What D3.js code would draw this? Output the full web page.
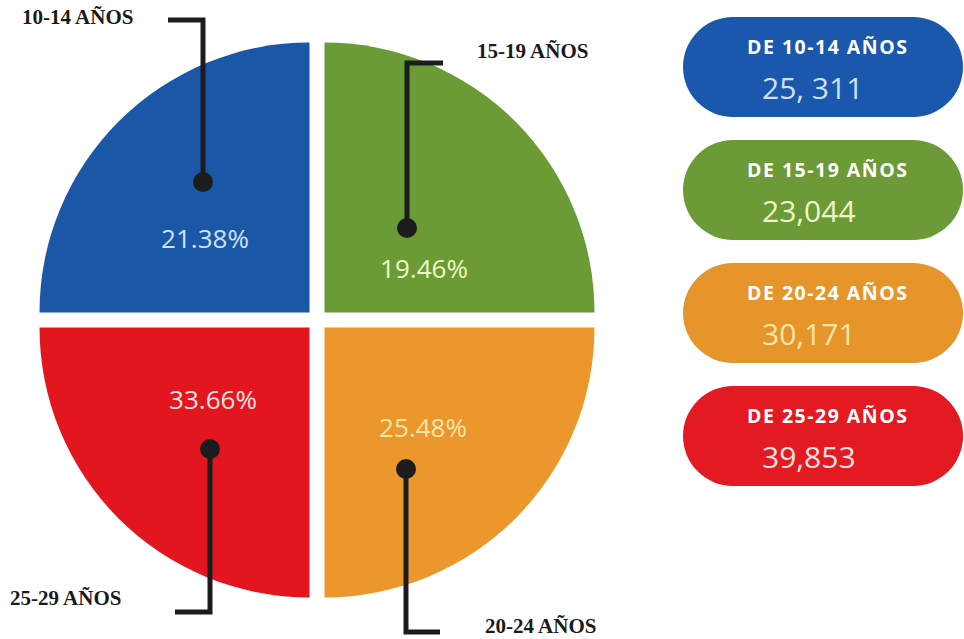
<!DOCTYPE html>
<html>
<head>
<meta charset="utf-8">
<script src="https://cdn.jsdelivr.net/npm/d3@7"></script>
<style>
  html, body { margin: 0; padding: 0; background: #ffffff; }
  svg { display: block; }
</style>
</head>
<body>
<svg id="chart" width="964" height="639"></svg>
<script>
// ---- data ----
const categories = ["10-14", "15-19", "20-24", "25-29"];
const counts = [25311, 23044, 30171, 39853];
const countLabels = ["25, 311", "23,044", "30,171", "39,853"];
const percents = [21.38, 19.46, 25.48, 33.66];
const colors = ["#1a57a7", "#6a9b35", "#eb972b", "#e3161f"];
const pillColors = ["#1a58ad", "#6b9a36", "#e6952b", "#e31a22"];
const textTints = ["#cfe1f7", "#eef7c8", "#fbe6a6", "#fde2e2"];

const svg = d3.select("#chart");
const cx = 317, cy = 320, R = 270, gap = 7.5;

// The reference draws the four groups as equal quadrants
const pie = d3.pie().sort(null).value(() => 1)
  .startAngle(-Math.PI / 2).endAngle(3 * Math.PI / 2);
const arc = d3.arc().innerRadius(0).outerRadius(R);
const arcs = pie(categories.map((c, i) => ({ cat: c, count: counts[i], pct: percents[i], i })));

const g = svg.append("g").attr("transform", `translate(${cx},${cy})`);

// per-slice layout: direction of offset, label position, leader geometry
const layout = [
  { dx: -1, dy: -1, pct: [-112, -72], dot: [-114, -138], elbow: [-114, -300], end: [-149, -300], lab: [-295, -296] },
  { dx: 1, dy: -1, pct: [107, -42], dot: [90, -92], elbow: [90, -257], end: [126, -257], lab: [160, -262] },
  { dx: 1, dy: 1, pct: [106, 117], dot: [89, 149], elbow: [89, 312], end: [123, 312], lab: [168, 313] },
  { dx: -1, dy: 1, pct: [-104, 89], dot: [-107, 129], elbow: [-107, 292], end: [-142, 292], lab: [-307, 285] }
];

const slices = g.selectAll("g.slice").data(arcs).join("g")
  .attr("class", "slice")
  .attr("transform", d => `translate(${layout[d.index].dx * gap},${layout[d.index].dy * gap})`);

slices.append("path")
  .attr("d", arc)
  .attr("fill", d => colors[d.index]);

// percent labels
g.selectAll("text.pct").data(arcs).join("text")
  .attr("class", "pct")
  .attr("x", d => layout[d.index].pct[0])
  .attr("y", d => layout[d.index].pct[1])
  .attr("text-anchor", "middle")
  .attr("font-family", "'Open Sans', sans-serif")
  .attr("font-size", 26)
  .attr("fill", d => textTints[d.index])
  .text(d => d.data.pct.toFixed(2) + "%");

// leader lines
g.selectAll("path.leader").data(arcs).join("path")
  .attr("class", "leader")
  .attr("fill", "none")
  .attr("stroke", "#1c1c1e")
  .attr("stroke-width", 5)
  .attr("stroke-linejoin", "miter")
  .attr("d", d => {
    const L = layout[d.index];
    return `M${L.dot[0]},${L.dot[1]}L${L.elbow[0]},${L.elbow[1]}L${L.end[0]},${L.end[1]}`;
  });

g.selectAll("circle.dot").data(arcs).join("circle")
  .attr("class", "dot")
  .attr("cx", d => layout[d.index].dot[0])
  .attr("cy", d => layout[d.index].dot[1])
  .attr("r", 10)
  .attr("fill", "#1c1c1e");

// outer labels
g.selectAll("text.lab").data(arcs).join("text")
  .attr("class", "lab")
  .attr("x", d => layout[d.index].lab[0])
  .attr("y", d => layout[d.index].lab[1])
  .attr("font-family", "'Liberation Serif', 'Times New Roman', serif")
  .attr("font-weight", "bold")
  .attr("font-size", 21)
  .attr("fill", "#1a1a1a")
  .text(d => d.data.cat + " AÑOS");

// ---- pills (legend) ----
const py = d3.scaleBand().domain(categories).range([17, 486]).paddingInner(0.187).paddingOuter(0);
const pillX = 683, pillW = 280;
const pill = svg.selectAll("g.pill").data(categories).join("g")
  .attr("class", "pill")
  .attr("transform", d => `translate(${pillX},${py(d)})`);

pill.append("rect")
  .attr("width", pillW)
  .attr("height", py.bandwidth())
  .attr("rx", py.bandwidth() / 2)
  .attr("ry", py.bandwidth() / 2)
  .attr("fill", (d, i) => pillColors[i]);

pill.append("text")
  .attr("x", 64)
  .attr("y", 37)
  .attr("font-family", "'Open Sans', sans-serif")
  .attr("font-weight", "bold")
  .attr("font-size", 19.5)
  .attr("letter-spacing", 1.5)
  .attr("fill", "#ffffff")
  .text(d => "DE " + d + " AÑOS");

pill.append("text")
  .attr("x", 79)
  .attr("y", 82)
  .attr("font-family", "'Open Sans', sans-serif")
  .attr("font-size", 30)
  .attr("fill", (d, i) => textTints[i])
  .text((d, i) => countLabels[i]);
</script>
</body>
</html>
